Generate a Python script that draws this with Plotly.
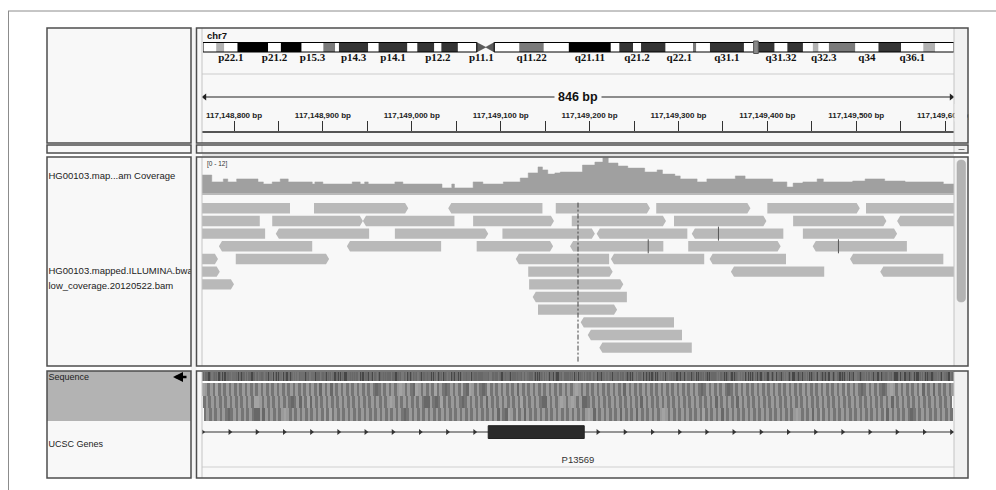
import numpy as np
import plotly.graph_objects as go

OX, OY = 0, 0
W, H = 996, 490
CHROM = "chr7"
START, END = 117148764, 117149610
COV_MAX = 12

# ---------------- cytobands (Mb) ----------------
band_names = ["p22.3","p22.2","p22.1","p21.3","p21.2","p21.1","p15.3","p15.2","p15.1","p14.3","p14.2","p14.1","p13",
              "p12.3","p12.2","p12.1","p11.2","p11.1","q11.1","q11.21","q11.22","q11.23","q21.11","q21.12","q21.13",
              "q21.2","q21.3","q22.1","q22.2","q22.3","q31.1","q31.2","q31.31","q31.32","q31.33","q32.1","q32.2",
              "q32.3","q33","q34","q35","q36.1","q36.2","q36.3"]
band_start = [0.0,2.8,4.5,7.3,13.8,16.5,20.9,25.5,28.0,28.8,35.0,37.2,43.3,45.4,49.0,50.5,54.0,58.0,59.9,61.7,67.0,
              72.2,77.5,86.4,88.2,91.1,92.8,98.0,103.8,104.5,107.4,114.6,117.4,121.1,123.8,127.1,129.2,130.4,132.6,
              138.2,143.1,147.9,152.6,155.1]
band_end = [2.8,4.5,7.3,13.8,16.5,20.9,25.5,28.0,28.8,35.0,37.2,43.3,45.4,49.0,50.5,54.0,58.0,59.9,61.7,67.0,72.2,
            77.5,86.4,88.2,91.1,92.8,98.0,103.8,104.5,107.4,114.6,117.4,121.1,123.8,127.1,129.2,130.4,132.6,138.2,
            143.1,147.9,152.6,155.1,159.1]
band_stain = ["gneg","gpos25","gneg","gpos100","gneg","gpos100","gneg","gpos50","gneg","gpos75","gneg","gpos75","gneg",
              "gpos75","gneg","gpos75","gneg","acen","acen","gneg","gpos50","gneg","gpos100","gneg","gpos75","gneg",
              "gpos75","gneg","gpos50","gneg","gpos75","gneg","gpos75","gneg","gpos75","gneg","gpos25","gneg","gpos50",
              "gneg","gpos75","gneg","gpos25","gneg"]
label_bands = ["p22.1","p21.2","p15.3","p14.3","p14.1","p12.2","p11.1","q11.22","q21.11","q21.2","q22.1","q31.1",
               "q31.32","q32.3","q34","q36.1"]

# ---------------- coverage ----------------
cov_pos = [117148764,117148775,117148788,117148793,117148803,117148827,117148833,117148843,117148852,117148861,
           117148888,117148891,117148900,117148933,117148942,117148947,117148951,117148981,117148990,117149034,
           117149045,117149048,117149069,117149080,117149103,117149122,117149131,117149142,117149147,117149153,
           117149161,117149167,117149192,117149206,117149215,117149221,117149232,117149243,117149262,117149276,
           117149282,117149296,117149302,117149321,117149332,117149364,117149375,117149406,117149422,117149429,
           117149440,117149456,117149463,117149496,117149510,117149532,117149555,117149598]
cov_depth = [6.0,3.7,4.7,3.7,4.7,3.7,3.0,3.7,4.7,3.7,3.0,3.7,3.0,3.7,3.0,3.7,3.0,3.7,3.0,1.7,3.0,1.7,3.7,3.0,3.7,
             5.0,6.7,8.7,7.7,6.3,6.7,7.0,9.3,10.3,11.7,10.0,9.0,8.3,7.0,7.7,6.3,5.7,4.7,3.7,4.7,5.7,4.7,3.7,2.0,3.3,
             3.7,4.7,3.7,4.0,4.7,4.0,3.7,3.0]

# ---------------- alignments ----------------
read_row = [0,0,0,0,0,0,0,
            1,1,1,1,1,1,1,1,
            2,2,2,2,2,2,2,
            3,3,3,3,3,3,
            4,4,4,4,4,4,
            5,5,5,5,
            6,6, 7, 8, 9, 10, 11]
read_start = [117148749,117148890,117149041,117149162,117149275,117149400,117149511,
              117148724,117148843,117148945,117149069,117149180,117149295,117149429,117149546,
              117148729,117148847,117148981,117149102,117149208,117149315,117149440,
              117148783,117148927,117149073,117149178,117149311,117149451,
              117148674,117148802,117149117,117149224,117149335,117149493,
              117148679,117149131,117149359,117149527,
              117148694,117149132,117149136,117149142,117149190,117149198,117149211]
read_end = [117148863,117148996,117149147,117149268,117149381,117149504,117149617,
            117148829,117148945,117149048,117149160,117149286,117149399,117149534,117149650,
            117148835,117148952,117149086,117149206,117149310,117149418,117149546,
            117148888,117149033,117149159,117149283,117149415,117149557,
            117148782,117148907,117149222,117149329,117149421,117149598,
            117148784,117149226,117149464,117149632,
            117148800,117149238,117149242,117149231,117149295,117149304,117149315]
read_strand = ["-","+","-","+","+","+","+",
               "-","+","-","+","+","+","+","-",
               "-","-","+","+","-","-","+",
               "-","-","+","-","+","-",
               "+","+","-","-","-","-",
               "+","+","-","-",
               "+","+","-","+","-","-","-"]
mm_row = [2, 3, 3]
mm_pos = [117149345, 117149266, 117149480]

# ---------------- reference sequence (estimated) ----------------
SEQ = ("ATGTTTTCCTGGATTATGCCTGGCACCATTAAAGAAAATATCATCTTTGGTGTTTCCTAT"
       "GATGAATATAGATACAGAAGCGTCATCAAAGCATGCCAACTAGAAGAGGTAAGAAACTAT"
       "GTGAAAACTTTTTGATTATGCATATGAACCCTTCACACTACCCAAATTATATATTTGGCT"
       "CCATATTCAATCGGTTAGTCTACATATATTTATGTTTCCTCTATGGGTAAGCTACTGTGA"
       "ATGGATCAATTAATAAAACACATGACCTATGCTTAAGAAGCTTGCAAACACATGAAATAA"
       "ATGCAATTTATTTTTTAAATAATGGGTTCATTTGATCACAATAAATGCATTTTATGAAAT"
       "GGTGAGAATTTTGTTCACTCATTAGTGAGACAAAACGTCCTCAATGGTTATTTATATGGC"
       "ATGCATATAGTGATATGTGGTAGGCCTTTCAAAGGAAGATACAGAAATTGTAATTGATCT"
       "TTCACAGGTGATTTAGCAAGCTTCACCTGGCTCAGAGTATGCAAGAAATATTACCCTTCA"
       "AACAGGTTTACTTCAGCTCATTAATGTTCTCCATTTTTAGGAGTTAACTCCTAGTCCAAC"
       "TTAGGAGCAAGCTGCAGCACTGTACAATCCAGTATTCCAGTCTTGGCAATTCCAAGAGGT"
       "CAAGCCCAATGCTTACAAAGGTGCTCTAAAGTCGGATGCTTCAACCAGGACTGGTATCCT"
       "CTCATGTGCATTCAGGGAATCTGAAAGTGTTGGAACAAACTCAGCTAATGTAGAATGATC"
       "CCCAGCAGAGCCTTTCCTAGACACCTCATGTGACTTCTTTCCTAAAAGAGTCAGGAATTC"
       "CAGATAAGCTTTGTAGCTAGTGCCCATGTCAAATCCCTGAGGAAGCATTCTATTGAAATC")

# ---------------- gene ----------------
gene_name = "P13569"
exon_start, exon_end = 117149086, 117149194

# ================= styling / layout helpers =================
PANEL = "#f8f8f8"
SCROLL = "#f1f1f1"
BORDER = "#4d4d4d"
READ = "#b9b9b9"
COV = "#a0a0a0"
STAIN = {"gneg": "#ffffff", "gpos25": "#b2b2b2", "gpos50": "#7a7a7a", "gpos75": "#343434",
         "gpos100": "#000000", "acen": "#5a5a5a"}
SANS = "Liberation Sans, Arial, sans-serif"
SERIF = "Liberation Serif, Times New Roman, serif"

def px(x):
    return (x - OX) / W

def py(y):
    return 1 - (y - OY) / H

def xd(a, b):
    return [px(a), px(b)]

def yd(top, bottom):
    return [py(bottom), py(top)]

fig = go.Figure()

# ---------------- ideogram ----------------
IDEO_TOP, IDEO_BOT = 42.5, 52.0
IDEO_MID = (IDEO_TOP + IDEO_BOT) / 2
idx = [i for i, s in enumerate(band_stain) if s != "acen"]
fig.add_trace(go.Bar(orientation="h",
                     base=[band_start[i] for i in idx],
                     x=[band_end[i] - band_start[i] for i in idx],
                     y=[IDEO_MID] * len(idx), width=IDEO_BOT - IDEO_TOP,
                     marker=dict(color=[STAIN[band_stain[i]] for i in idx], line=dict(width=0)),
                     xaxis="x2", yaxis="y5", hoverinfo="skip"))
acen = [i for i, s in enumerate(band_stain) if s == "acen"]
p_acen, q_acen = acen[0], acen[1]
fig.add_trace(go.Scatter(
    x=[band_start[p_acen], band_end[p_acen], band_start[p_acen], band_start[p_acen], None,
       band_end[q_acen], band_start[q_acen], band_end[q_acen], band_end[q_acen]],
    y=[IDEO_TOP, IDEO_MID, IDEO_BOT, IDEO_TOP, None, IDEO_TOP, IDEO_MID, IDEO_BOT, IDEO_TOP],
    fill="toself", fillcolor=STAIN["acen"], mode="lines", line=dict(width=0.5, color="#444"),
    xaxis="x2", yaxis="y5", hoverinfo="skip"))
p0, p1 = band_start[0], band_start[p_acen]
q0, q1 = band_end[q_acen], band_end[-1]
fig.add_trace(go.Scatter(
    x=[p0, p1, p1, p0, p0, None, q0, q1, q1, q0, q0],
    y=[IDEO_TOP, IDEO_TOP, IDEO_BOT, IDEO_BOT, IDEO_TOP, None, IDEO_TOP, IDEO_TOP, IDEO_BOT, IDEO_BOT, IDEO_TOP],
    mode="lines", line=dict(width=1, color="#000"), xaxis="x2", yaxis="y5", hoverinfo="skip"))
mk = (START + END) / 2e6
fig.add_trace(go.Scatter(x=[mk - 0.5, mk + 0.5, mk + 0.5, mk - 0.5, mk - 0.5],
                         y=[41, 41, 53.5, 53.5, 41], fill="toself", fillcolor="#8a8a8a",
                         mode="lines", line=dict(width=1, color="#555"),
                         xaxis="x2", yaxis="y5", hoverinfo="skip"))
lab_idx = [band_names.index(n) for n in label_bands]
fig.add_trace(go.Scatter(x=[(band_start[i] + band_end[i]) / 2 for i in lab_idx], y=[58] * len(lab_idx),
                         text=label_bands, mode="text",
                         textfont=dict(family=SERIF, size=11, color="#111", weight="bold"),
                         xaxis="x2", yaxis="y5", hoverinfo="skip", cliponaxis=False))

# ---------------- ruler ----------------
fig.add_trace(go.Scatter(x=[START + 2, END - 2], y=[97, 97], mode="lines", line=dict(color="#222", width=1),
                         xaxis="x", yaxis="y5", hoverinfo="skip"))
fig.add_trace(go.Scatter(x=[START + 3, END - 3], y=[97, 97], mode="markers",
                         marker=dict(symbol=["triangle-left", "triangle-right"], size=6, color="#222"),
                         xaxis="x", yaxis="y5", hoverinfo="skip"))
fig.add_trace(go.Scatter(x=[START], y=[0], mode="markers", marker=dict(opacity=0),
                         xaxis="x3", yaxis="y6", hoverinfo="skip"))

# ---------------- coverage ----------------
fig.add_trace(go.Scatter(x=cov_pos + [END], y=cov_depth + [cov_depth[-1]], mode="lines", line_shape="hv",
                         fill="tozeroy", fillcolor=COV, line=dict(width=0.5, color=COV),
                         xaxis="x", yaxis="y", hoverinfo="skip"))

# ---------------- reads ----------------
A_BP, HH = 3.5, 0.41
rx, ry = [], []
for r, s, e, st in zip(read_row, read_start, read_end, read_strand):
    if st == "+":
        xs = [s, e - A_BP, e, e - A_BP, s, s]
        ys = [r - HH, r - HH, r, r + HH, r + HH, r - HH]
    else:
        xs = [s, s + A_BP, e, e, s + A_BP, s]
        ys = [r, r - HH, r - HH, r + HH, r + HH, r]
    rx += xs + [None]
    ry += ys + [None]
fig.add_trace(go.Scatter(x=rx, y=ry, fill="toself", fillcolor=READ, mode="lines",
                         line=dict(width=0, color=READ), xaxis="x", yaxis="y2", hoverinfo="skip"))
fig.add_trace(go.Scatter(x=mm_pos, y=mm_row, mode="markers",
                         marker=dict(symbol="line-ns", size=10, line=dict(width=1, color="#555")),
                         xaxis="x", yaxis="y2", hoverinfo="skip"))
center = (START + END) / 2
fig.add_trace(go.Scatter(x=[center, center], y=[-0.45, 12.2], mode="lines",
                         line=dict(color="#444", width=1, dash="5px,2px,2px,2px"),
                         xaxis="x", yaxis="y2", hoverinfo="skip"))

# ---------------- sequence + translation ----------------
N = END - START
seq = SEQ[:N]
base_code = {"A": 0, "C": 1, "G": 2, "T": 3}
bases = "TCAG"
aa_tab = "FFLLSSSSYY**CC*WLLLLPPPPHHQQRRRRIIIMTTTTNNKKSSRRVVVVAAAADDEEGGGG"
codon = {a + b + c: aa_tab[16 * i + 4 * j + k]
         for i, a in enumerate(bases) for j, b in enumerate(bases) for k, c in enumerate(bases)}
z = np.full((5, len(seq)), np.nan)
z[0] = [base_code[b] for b in seq]
z[1] = 8
for f in range(3):
    k = 0
    while f + 3 * k + 3 <= len(seq):
        aa = codon[seq[f + 3 * k: f + 3 * k + 3]]
        code = 6 if aa == "M" else 7 if aa == "*" else 4 + (k % 2)
        z[2 + f, f + 3 * k: f + 3 * k + 3] = code
        k += 1
palette = ["#6f6f6f", "#474747", "#787878", "#686868", "#757575", "#9a9a9a", "#a3a3a3", "#686868", "#ffffff"]
cs = []
for i, c in enumerate(palette):
    cs += [[i / len(palette), c], [(i + 1) / len(palette), c]]
fig.add_trace(go.Heatmap(z=z, x=[START + i + 0.5 for i in range(len(seq))],
                         y=[372, 381.3, 383, 395.7, 408.3, 421], colorscale=cs, zmin=-0.5,
                         zmax=len(palette) - 0.5, showscale=False, hoverinfo="skip",
                         xaxis="x", yaxis="y3"))

# ---------------- gene ----------------
px_per_bp = (954 - 202) / (END - START)
step = 27.2 / px_per_bp
right = np.arange(exon_end + step / 2, END, step)
left = exon_start - step / 2 - np.arange(0, exon_start - START, step)
left = left[left > START]
fig.add_trace(go.Scatter(x=[START, END], y=[432, 432], mode="lines", line=dict(color="#333", width=1),
                         xaxis="x", yaxis="y4", hoverinfo="skip"))
arr = np.concatenate([left, right])
fig.add_trace(go.Scatter(x=arr, y=[432] * len(arr), mode="markers",
                         marker=dict(symbol="triangle-right", size=5, color="#333"),
                         xaxis="x", yaxis="y4", hoverinfo="skip"))
fig.add_trace(go.Scatter(x=[exon_start, exon_end, exon_end, exon_start, exon_start],
                         y=[425.7, 425.7, 438.5, 438.5, 425.7], fill="toself", fillcolor="#2b2b2b",
                         mode="lines", line=dict(width=1, color="#222"), xaxis="x", yaxis="y4", hoverinfo="skip"))
fig.add_trace(go.Scatter(x=[center], y=[461], text=[gene_name], mode="text",
                         textfont=dict(family=SANS, size=9.5, color="#333"),
                         xaxis="x", yaxis="y4", hoverinfo="skip"))

# ---------------- track names ----------------
names = ["HG00103.map...am Coverage", "HG00103.mapped.ILLUMINA.bwa", "low_coverage.20120522.bam",
         "Sequence", "UCSC Genes"]
name_y = [177, 272, 287, 378, 445]
name_size = [9.5, 9.5, 9.5, 9, 9]
for t, yy, sz in zip(names, name_y, name_size):
    fig.add_trace(go.Scatter(x=[48.5], y=[yy], text=[t], mode="text", textposition="middle right",
                             textfont=dict(family=SANS, size=sz, color="#222"), cliponaxis=True,
                             xaxis="x4", yaxis="y7", hoverinfo="skip"))

# ================= shapes =================
shapes = []

def rect(x0, y0, x1, y1, fill=None, line=None, lw=1.0, layer="below"):
    shapes.append(dict(type="rect", xref="paper", yref="paper", x0=px(x0), x1=px(x1), y0=py(y1), y1=py(y0),
                       fillcolor=fill if fill else "rgba(0,0,0,0)",
                       line=dict(color=line if line else "rgba(0,0,0,0)", width=lw if line else 0),
                       layer=layer))

def seg(x0, y0, x1, y1, color, lw=1.0, layer="above"):
    shapes.append(dict(type="line", xref="paper", yref="paper", x0=px(x0), x1=px(x1), y0=py(y0), y1=py(y1),
                       line=dict(color=color, width=lw), layer=layer))

rows = [(28, 143), (145, 153), (157, 366), (371, 478)]
rect(191, 28, 196.5, 478, fill="#f3f3f3")
for t, b in rows:
    rect(47, t, 191, b, fill=PANEL)
    rect(196.5, t, 968, b, fill=PANEL)
    rect(954, t, 968, b, fill=SCROLL)
rect(47, 371, 191, 421, fill="#b3b3b3")

seg(202, 74, 954, 74, "#cccccc", 1)
seg(202, 194, 954, 194, "#a5a5a5", 1.5)
seg(202, 467, 954, 467, "#d0d0d0", 1)
seg(202, 155, 954, 155, "#c8c8c8", 1)
for t, b in rows:
    seg(202, t, 202, b, "#c4c4c4", 1)
    seg(954, t, 954, b, "#c4c4c4", 1)
rect(954.6, 104, 967.3, 121.5, fill=SCROLL, layer="above")
rect(968.7, 104, 996, 121.5, fill="#ffffff", layer="above")
for t, b in rows:
    rect(47, t, 191, b, line=BORDER, lw=1.5, layer="above")
    rect(196.5, t, 968, b, line=BORDER, lw=1.5, layer="above")
x0, x1, y0, y1 = 957, 965.5, 160, 302
rr = 4
path = (f"M {px(x0)},{py(y0 + rr)} Q {px(x0)},{py(y0)} {px((x0 + x1) / 2)},{py(y0)} "
        f"Q {px(x1)},{py(y0)} {px(x1)},{py(y0 + rr)} L {px(x1)},{py(y1 - rr)} "
        f"Q {px(x1)},{py(y1)} {px((x0 + x1) / 2)},{py(y1)} Q {px(x0)},{py(y1)} {px(x0)},{py(y1 - rr)} Z")
shapes.append(dict(type="path", xref="paper", yref="paper", path=path, fillcolor="#b3b3b3",
                   line=dict(width=0.5, color="#a8a8a8"), layer="above"))
seg(958.5, 149.5, 964.5, 149.5, "#7a7a7a", 1)
seg(8, 11, 996, 11, "#8c8c8c", 1)
seg(8.5, 11, 8.5, 490, "#8c8c8c", 1)

# ================= annotations =================
ann = [
    dict(x=px(204.5), y=py(35.5), xref="paper", yref="paper", text=f"<b>{CHROM}</b>", showarrow=False,
         xanchor="left", yanchor="middle", font=dict(family=SANS, size=9.5, color="#111")),
    dict(x=center, y=97, xref="x", yref="y5", text=f"<b>{END - START} bp</b>", showarrow=False,
         xanchor="center", yanchor="middle", bgcolor=PANEL, borderpad=3,
         font=dict(family=SANS, size=12.5, color="#111")),
    dict(x=px(205), y=py(164.5), xref="paper", yref="paper", text=f"[0 - {COV_MAX}]", showarrow=False,
         xanchor="left", yanchor="middle", font=dict(family=SANS, size=6.5, color="#333")),
    dict(x=px(173), y=py(377), xref="paper", yref="paper", text="", showarrow=True, ax=15, ay=0,
         arrowhead=2, arrowsize=0.8, arrowwidth=2.5, arrowcolor="#000"),
]

gx = xd(202, 954)
noauto = dict(automargin=False, fixedrange=True)
fig.update_layout(
    template="none",
    width=W, height=H, margin=dict(l=0, r=0, t=0, b=0, pad=0, autoexpand=False), autosize=False,
    paper_bgcolor="#ffffff", plot_bgcolor="rgba(0,0,0,0)",
    showlegend=False, hovermode=False, barmode="overlay",
    shapes=shapes, annotations=ann,
    xaxis=dict(domain=gx, range=[START, END], visible=False, anchor="y", **noauto),
    xaxis2=dict(domain=xd(203, 954), range=[0, band_end[-1]], visible=False, anchor="y5", **noauto),
    xaxis3=dict(domain=gx, range=[START, END], anchor="y6", side="top", showgrid=False, zeroline=False,
                showline=True, linecolor="#555", linewidth=1.5,
                tickmode="linear", tick0=117148800, dtick=100, ticks="outside", ticklen=10,
                tickcolor="#333", tickwidth=1, tickformat=",d", ticksuffix=" bp",
                tickfont=dict(family=SANS, size=8, color="#222", weight="bold"),
                minor=dict(dtick=50, ticks="outside", ticklen=10, tickcolor="#333", tickwidth=1, showgrid=False),
                **noauto),
    xaxis4=dict(domain=xd(47, 191), range=[47, 191], visible=False, anchor="y7", **noauto),
    yaxis=dict(domain=yd(157, 193), range=[0, COV_MAX], visible=False, anchor="x", **noauto),
    yaxis2=dict(domain=yd(202, 366), range=[(366 - 208.3) / 12.67, (202 - 208.3) / 12.67], visible=False,
                anchor="x", **noauto),
    yaxis3=dict(domain=yd(372, 421), range=[421, 372], visible=False, anchor="x", **noauto),
    yaxis4=dict(domain=yd(421, 478), range=[478, 421], visible=False, anchor="x", **noauto),
    yaxis5=dict(domain=yd(28, 143), range=[143, 28], visible=False, anchor="x2", **noauto),
    yaxis6=dict(domain=yd(133, 143), range=[0, 1], visible=False, anchor="x3", **noauto),
    yaxis7=dict(domain=yd(28, 478), range=[478, 28], visible=False, anchor="x4", **noauto),
)

# remove the browser's default page margin so the 996x490 figure fills the window exactly
fig.write_html("out.html", config={"responsive": False, "displayModeBar": False},
               post_script="document.body.style.margin='0';document.body.style.overflow='hidden';")
